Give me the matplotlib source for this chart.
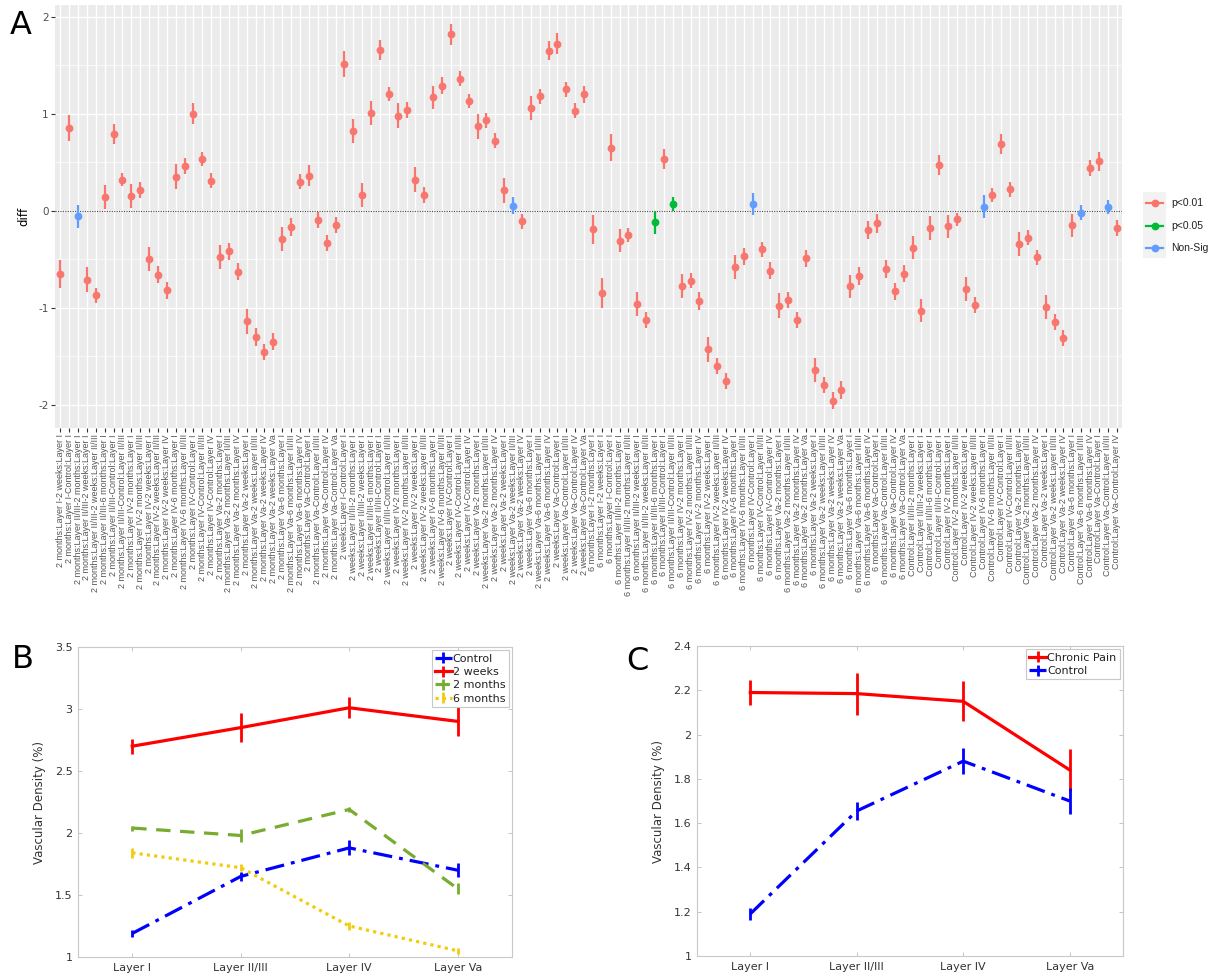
import matplotlib
matplotlib.use("Agg")
import matplotlib.pyplot as plt
from matplotlib.lines import Line2D
from matplotlib.patches import Rectangle
import numpy as np

# ---- panel A: pairwise comparisons (group levels in model order) ----
group_levels = [
    "Control:Layer I", "2 weeks:Layer I", "2 months:Layer I", "6 months:Layer I",
    "Control:Layer II/III", "2 weeks:Layer II/III", "2 months:Layer II/III", "6 months:Layer II/III",
    "Control:Layer IV", "2 weeks:Layer IV", "2 months:Layer IV", "6 months:Layer IV",
    "Control:Layer Va", "2 weeks:Layer Va", "2 months:Layer Va", "6 months:Layer Va",
]
comparisons = sorted(
    f"{group_levels[j]}-{group_levels[i]}"
    for j in range(len(group_levels)) for i in range(j)
)

diffs = [
    -0.65, 0.85, -0.06, -0.71, -0.87, 0.14, 0.79, 0.32, 0.15, 0.21,
    -0.50, -0.66, -0.82, 0.35, 0.46, 1.00, 0.53, 0.31, -0.48, -0.42,
    -0.63, -1.14, -1.30, -1.46, -1.35, -0.29, -0.17, 0.30, 0.36, -0.10,
    -0.33, -0.15, 1.51, 0.82, 0.16, 1.01, 1.66, 1.20, 0.98, 1.04,
    0.32, 0.16, 1.17, 1.29, 1.82, 1.36, 1.13, 0.87, 0.93, 0.72,
    0.21, 0.05, -0.11, 1.06, 1.18, 1.65, 1.72, 1.25, 1.03, 1.20,
    -0.19, -0.85, 0.65, -0.31, -0.25, -0.96, -1.13, -0.12, 0.53, 0.07,
    -0.78, -0.72, -0.93, -1.43, -1.60, -1.76, -0.58, -0.47, 0.07, -0.40,
    -0.62, -0.98, -0.92, -1.13, -0.49, -1.64, -1.80, -1.96, -1.85, -0.78,
    -0.67, -0.20, -0.13, -0.60, -0.83, -0.65, -0.38, -1.03, -0.18, 0.47,
    -0.16, -0.09, -0.81, -0.97, 0.04, 0.16, 0.69, 0.22, -0.34, -0.28,
    -0.48, -0.99, -1.15, -1.31, -0.15, -0.02, 0.44, 0.51, 0.04, -0.18,
]
diff_err = [
    0.146, 0.134, 0.12, 0.125, 0.077, 0.125, 0.105, 0.07, 0.124, 0.084,
    0.125, 0.09, 0.086, 0.13, 0.08, 0.105, 0.074, 0.08, 0.125, 0.086,
    0.086, 0.127, 0.09, 0.082, 0.09, 0.124, 0.09, 0.08, 0.11, 0.082,
    0.084, 0.082, 0.137, 0.124, 0.127, 0.124, 0.103, 0.074, 0.13, 0.082,
    0.13, 0.082, 0.12, 0.086, 0.108, 0.077, 0.074, 0.127, 0.077, 0.077,
    0.127, 0.086, 0.077, 0.125, 0.077, 0.095, 0.11, 0.08, 0.077, 0.086,
    0.15, 0.155, 0.137, 0.12, 0.07, 0.125, 0.082, 0.12, 0.105, 0.075,
    0.124, 0.08, 0.09, 0.13, 0.082, 0.082, 0.125, 0.086, 0.11, 0.077,
    0.086, 0.13, 0.086, 0.082, 0.086, 0.125, 0.082, 0.086, 0.09, 0.12,
    0.094, 0.093, 0.1, 0.09, 0.086, 0.086, 0.12, 0.12, 0.12, 0.1,
    0.12, 0.065, 0.122, 0.082, 0.12, 0.074, 0.103, 0.074, 0.125, 0.077,
    0.077, 0.125, 0.08, 0.08, 0.117, 0.077, 0.08, 0.098, 0.075, 0.079,
]
# 1-based positions of comparisons that are not p<0.01
p05_pos = [68, 70]
nonsig_pos = [3, 52, 79, 105, 116, 119]

sig_names = ["p<0.01", "p<0.05", "Non-Sig"]
sig_colors = ["#F8766D", "#00BA38", "#619CFF"]

# ---- panel B: vascular density by group ----
layer_names = ["Layer I", "Layer II/III", "Layer IV", "Layer Va"]
b_series = ["Control", "2 weeks", "2 months", "6 months"]
b_means = {
    "Control": [1.19, 1.65, 1.88, 1.70],
    "2 weeks": [2.70, 2.85, 3.01, 2.90],
    "2 months": [2.04, 1.98, 2.19, 1.55],
    "6 months": [1.84, 1.72, 1.25, 1.05],
}
b_errs = {
    "Control": [0.03, 0.035, 0.06, 0.055],
    "2 weeks": [0.06, 0.12, 0.085, 0.115],
    "2 months": [0.02, 0.05, 0.02, 0.045],
    "6 months": [0.04, 0.03, 0.03, 0.025],
}

# ---- panel C: chronic pain vs control ----
c_series = ["Chronic Pain", "Control"]
c_means = {
    "Chronic Pain": [2.19, 2.185, 2.15, 1.84],
    "Control": [1.19, 1.655, 1.88, 1.70],
}
c_errs = {
    "Chronic Pain": [0.057, 0.095, 0.09, 0.095],
    "Control": [0.027, 0.04, 0.06, 0.06],
}

line_styles = {
    "Control": ("#0000FF", (0, (6, 2.2, 1.2, 2.2))),
    "2 weeks": ("#FF0000", "-"),
    "2 months": ("#77AC30", (0, (4.5, 3))),
    "6 months": ("#F2CC0C", (0, (1, 1.3))),
    "Chronic Pain": ("#FF0000", "-"),
}

W, H = 1211, 980
fig = plt.figure(figsize=(W / 100, H / 100), dpi=100)


def fbox(left, top, right, bottom):
    return [left / W, 1 - bottom / H, (right - left) / W, (bottom - top) / H]


# ---------------- panel A ----------------
axA = fig.add_axes(fbox(55, 5, 1122, 428))
xpos = np.arange(1, len(comparisons) + 1)
d = np.array(diffs)
e = np.array(diff_err)
sig = np.zeros(len(d), dtype=int)
sig[np.array(p05_pos) - 1] = 1
sig[np.array(nonsig_pos) - 1] = 2

axA.set_facecolor("#EBEBEB")
axA.axhline(0, color="#444444", ls=(0, (1, 1.2)), lw=0.8, zorder=2)
for k, col in enumerate(sig_colors):
    m = sig == k
    axA.errorbar(xpos[m], d[m], yerr=e[m], fmt="o", color=col, ms=4.6,
                 elinewidth=1.6, capsize=0, zorder=3)

axA.set_xlim(0.4, len(comparisons) + 0.6)
axA.set_ylim(-2.24, 2.12)
axA.set_yticks([-2, -1, 0, 1, 2])
axA.set_yticklabels(["-2", "-1", "0", "1", "2"])
axA.set_yticks([-1.5, -0.5, 0.5, 1.5], minor=True)
axA.set_xticks(xpos)
axA.set_xticklabels(comparisons, rotation=90, fontsize=6.5, color="#555555",
                    family="Liberation Sans")
axA.grid(which="major", color="white", lw=1.0, zorder=0)
axA.grid(which="minor", axis="y", color="white", lw=0.5, zorder=0)
axA.set_axisbelow(True)
for s in axA.spines.values():
    s.set_visible(False)
axA.tick_params(axis="both", which="major", length=3, width=0.8, color="#333333", pad=1.5)
axA.tick_params(axis="y", which="minor", length=0)
axA.tick_params(axis="y", labelsize=7.5, labelcolor="#4D4D4D")
axA.set_ylabel("diff", fontsize=8.5, labelpad=6)

# legend of panel A, ggplot look
fig.add_artist(Rectangle((1143 / W, 1 - 258 / H), 23 / W, 66 / H,
                         transform=fig.transFigure, facecolor="#F2F2F2",
                         edgecolor="none"))
for k, (name, col) in enumerate(zip(sig_names, sig_colors)):
    yy = 1 - (203 + k * 22.5) / H
    fig.add_artist(Line2D([1146 / W, 1163 / W], [yy, yy], transform=fig.transFigure,
                          color=col, lw=1.6))
    fig.add_artist(Line2D([1154.5 / W], [yy], transform=fig.transFigure,
                          color=col, marker="o", ms=4.6))
    fig.text(1171 / W, yy, name, fontsize=7.5, color="#222222", va="center",
             family="Liberation Sans")

fig.text(10 / W, 1 - 26 / H, "A", fontsize=23, va="center", ha="left")


# ---------------- panels B and C ----------------
def matlab_panel(ax, series, means, errs, ylim, yticks, ytick_labels):
    xs = np.arange(1, len(layer_names) + 1)
    for name in series:
        col, ls = line_styles[name]
        ax.errorbar(xs, means[name], yerr=errs[name], color=col, ls=ls, lw=2.3,
                    elinewidth=2.0, capsize=0, label=name)
    ax.set_xlim(0.5, 4.5)
    ax.set_ylim(*ylim)
    ax.set_xticks(xs)
    ax.set_xticklabels(layer_names)
    ax.set_yticks(yticks)
    ax.set_yticklabels(ytick_labels)
    ax.tick_params(direction="in", top=True, right=True, length=3, width=0.6,
                   color="#BBBBBB", labelsize=8, labelcolor="#333333", pad=4)
    for s in ax.spines.values():
        s.set_color("#C8C8C8")
        s.set_linewidth(0.8)
    ax.set_ylabel("Vascular Density (%)", fontsize=8.5, color="#333333", labelpad=6)
    leg = ax.legend(loc="upper right", fontsize=8, handlelength=1.5,
                    handletextpad=0.1, borderpad=0.3, labelspacing=0.3,
                    borderaxespad=0.3, fancybox=False, framealpha=1)
    leg.get_frame().set_edgecolor("#C8C8C8")
    leg.get_frame().set_linewidth(0.8)
    for t in leg.get_texts():
        t.set_color("#222222")


axB = fig.add_axes(fbox(78, 647, 512, 957))
matlab_panel(axB, b_series, b_means, b_errs, (1, 3.5),
             [1, 1.5, 2, 2.5, 3, 3.5], ["1", "1.5", "2", "2.5", "3", "3.5"])
fig.text(12 / W, 1 - 659 / H, "B", fontsize=23, va="center", ha="left")

axC = fig.add_axes(fbox(697, 646, 1123, 956))
matlab_panel(axC, c_series, c_means, c_errs, (1, 2.4),
             [1, 1.2, 1.4, 1.6, 1.8, 2, 2.2, 2.4],
             ["1", "1.2", "1.4", "1.6", "1.8", "2", "2.2", "2.4"])
fig.text(626 / W, 1 - 662 / H, "C", fontsize=23, va="center", ha="left")

fig.savefig("out.png", dpi=100)
